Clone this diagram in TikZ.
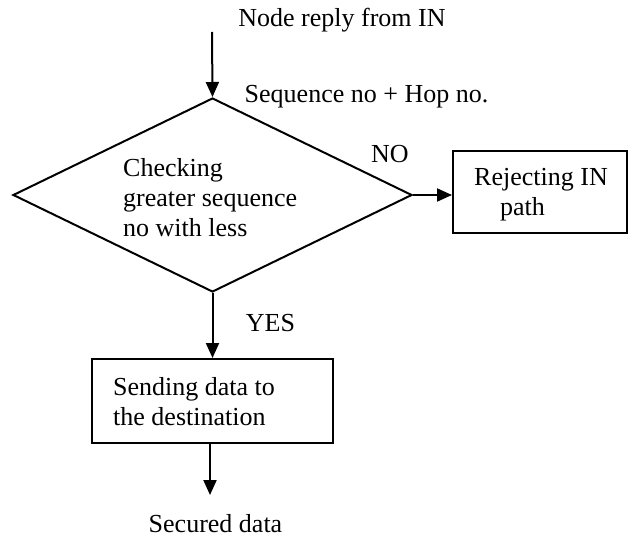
\documentclass[tikz,border=0pt]{standalone}
\usepackage{fontspec}
\setmainfont{Liberation Serif}
\usetikzlibrary{arrows.meta,shapes.geometric}
\begin{document}
\begin{tikzpicture}[x=1pt,y=-1pt,
  txt/.style={font=\fontsize{26}{30}\selectfont, inner sep=0pt, align=left},
  box/.style={draw, line width=2pt, inner sep=0pt},
  flow/.style={line width=2pt, -{Triangle[length=15pt,width=13pt]}}]
\useasboundingbox (0,0) rectangle (629,537);
% texts
\node[txt, anchor=base] (t1) at (342,27) {Node reply from IN};
\node[txt, anchor=base] (t2) at (366.5,103) {Sequence no + Hop no.};
\node[txt, anchor=base] (no) at (390,163) {NO};
\node[txt, anchor=base] (yes) at (270.5,331) {YES};
\node[txt, anchor=base] (out) at (215.5,532) {Secured data};
% shapes
\coordinate (in) at (212,32);
\node[box, diamond, minimum width=399pt, minimum height=194pt] (d) at (212.5,195) {};
\node[txt, anchor=base west] (dt) at (123,237) {Checking\\greater sequence\\no with less};
\node[box, rectangle, minimum width=174pt, minimum height=82pt] (rej) at (540,192) {};
\node[txt, anchor=base west] (rejt) at (474,216) {Rejecting IN\\\hspace*{26pt}path};
\node[box, rectangle, minimum width=241pt, minimum height=84pt] (send) at (212.5,401) {};
\node[txt, anchor=base west] (sendt) at (113,425) {Sending data to\\the destination};
\coordinate (end) at (210,495);
% connectors
\draw[flow] (in) -- (d.north);
\draw[flow] (d.east) -- (d.east -| rej.west);
\draw[flow] (d.south) -- (send.north);
\draw[flow] (send.south -| end) -- (end);
\end{tikzpicture}
\end{document}
